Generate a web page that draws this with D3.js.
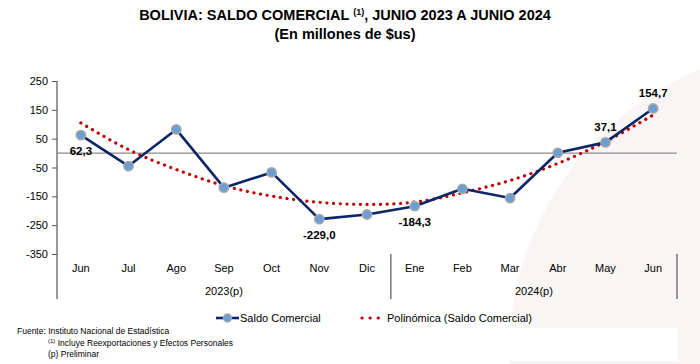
<!DOCTYPE html>
<html>
<head>
<meta charset="utf-8">
<script src="https://cdn.jsdelivr.net/npm/d3@7"></script>
<style>
  body { margin: 0; background: #fff; }
  svg { font-family: "Liberation Sans", Arial, sans-serif; display: block; }
</style>
</head>
<body>
<div id="chart"></div>
<script>
// data
const months = ["Jun", "Jul", "Ago", "Sep", "Oct", "Nov", "Dic", "Ene", "Feb", "Mar", "Abr", "May", "Jun"];
const years = ["2023(p)", "2024(p)"];
const yearStart = [0, 7];
const saldo = [62.3, -45, 82, -120, -67, -229.0, -213, -184.3, -124, -156, 1, 37.1, 154.7];
// polynomial trendline as drawn (read at each month)
const trend = [105, 12, -57, -113, -149, -171, -178, -170, -138, -95, -36, 40, 132];
const labelled = [0, 5, 7, 11, 12];
const labelBelow = [true, true, true, false, false];
const yTicks = [250, 150, 50, -50, -150, -250, -350];

const W = 700, H = 364;
const margin = {top: 81, left: 57, right: 26, bottom: 110};

const svg = d3.select("#chart").append("svg")
    .attr("width", W).attr("height", H);

// faint background decoration
svg.append("circle")
    .attr("cx", 816).attr("cy", 354).attr("r", 307)
    .attr("fill", "#f9f5f4");
svg.append("rect")
    .attr("x", 0).attr("y", 328).attr("width", 677).attr("height", 33)
    .attr("fill", "#fff");

// title
svg.append("text")
    .attr("x", 345).attr("y", 20)
    .attr("text-anchor", "middle")
    .attr("font-weight", "bold").attr("font-size", 14.5)
    .call(t => {
        t.append("tspan").text("BOLIVIA: SALDO COMERCIAL ");
        t.append("tspan").attr("font-size", 9).attr("dy", -5).text("(1)");
        t.append("tspan").attr("dy", 5).text(", JUNIO 2023 A JUNIO 2024");
    });
svg.append("text")
    .attr("x", 345).attr("y", 39)
    .attr("text-anchor", "middle")
    .attr("font-weight", "bold").attr("font-size", 14.5)
    .text("(En millones de $us)");

// scales
const x = d3.scaleBand()
    .domain(d3.range(months.length))
    .range([margin.left, W - margin.right + 3])
    .padding(0);
const cx = i => x(i) + x.bandwidth() / 2;

const y = d3.scaleLinear()
    .domain([-350, 250])
    .range([254, margin.top]);

// y axis
const yAxis = svg.append("g")
    .attr("transform", `translate(${margin.left},0)`)
    .call(d3.axisLeft(y).tickValues(yTicks).tickSize(5).tickPadding(4).tickFormat(d => String(d)));
yAxis.select(".domain").remove();
yAxis.selectAll(".tick line").attr("stroke", "#555");
yAxis.selectAll(".tick text").attr("font-size", 11).attr("fill", "#000")
    .attr("font-family", "Liberation Sans, Arial, sans-serif");
svg.append("line")
    .attr("x1", margin.left).attr("x2", margin.left)
    .attr("y1", y(250)).attr("y2", 299)
    .attr("stroke", "#555").attr("stroke-width", 1.2);

// zero line (category axis)
svg.append("line")
    .attr("x1", margin.left).attr("x2", x.range()[1])
    .attr("y1", y(0)).attr("y2", y(0))
    .attr("stroke", "#8c8c8c").attr("stroke-width", 1.2);

// category labels
svg.append("g").selectAll("text")
    .data(months)
    .join("text")
    .attr("x", (d, i) => cx(i))
    .attr("y", 272)
    .attr("text-anchor", "middle")
    .attr("font-size", 11)
    .text(d => d);

// year groups + separators
const sepX = [...yearStart.slice(1).map(i => x(i)), x.range()[1]];
svg.append("g").selectAll("line")
    .data(sepX)
    .join("line")
    .attr("x1", d => d).attr("x2", d => d)
    .attr("y1", 254).attr("y2", 299)
    .attr("stroke", "#555").attr("stroke-width", 1.2);

years.forEach((yr, k) => {
    const a = x(yearStart[k]);
    const b = k + 1 < yearStart.length ? x(yearStart[k + 1]) : x.range()[1];
    svg.append("text")
        .attr("x", (a + b) / 2).attr("y", 295)
        .attr("text-anchor", "middle")
        .attr("font-size", 11)
        .text(yr);
});

// trendline
svg.append("path")
    .datum(trend)
    .attr("d", d3.line().x((d, i) => cx(i)).y(d => y(d)).curve(d3.curveNatural))
    .attr("fill", "none")
    .attr("stroke", "#c00000")
    .attr("stroke-width", 3.2)
    .attr("stroke-linecap", "round")
    .attr("stroke-dasharray", "0.1 6.6");

// main series
svg.append("path")
    .datum(saldo)
    .attr("d", d3.line().x((d, i) => cx(i)).y(d => y(d)))
    .attr("fill", "none")
    .attr("stroke", "#0b2566")
    .attr("stroke-width", 2.6)
    .attr("stroke-linejoin", "round");

svg.append("g").selectAll("circle")
    .data(saldo)
    .join("circle")
    .attr("cx", (d, i) => cx(i))
    .attr("cy", d => y(d))
    .attr("r", 4.6)
    .attr("fill", "#6a9fd6")
    .attr("stroke", "#a6a6a6")
    .attr("stroke-width", 1.6);

// data labels
const fmt = v => v.toFixed(1).replace(".", ",");
svg.append("g").selectAll("text")
    .data(labelled)
    .join("text")
    .attr("x", i => cx(i))
    .attr("y", (i, k) => labelBelow[k] ? y(saldo[i]) + 20 : y(saldo[i]) - 11)
    .attr("text-anchor", "middle")
    .attr("font-size", 11.5)
    .attr("font-weight", "bold")
    .text(i => fmt(saldo[i]));

// legend
const lg = svg.append("g").attr("transform", "translate(0,318)");
lg.append("line").attr("x1", 216).attr("x2", 239).attr("y1", 0).attr("y2", 0)
    .attr("stroke", "#0b2566").attr("stroke-width", 2.6);
lg.append("circle").attr("cx", 227.5).attr("cy", 0).attr("r", 4)
    .attr("fill", "#6a9fd6").attr("stroke", "#a6a6a6").attr("stroke-width", 1.4);
lg.append("text").attr("x", 240).attr("y", 4).attr("font-size", 11).text("Saldo Comercial");
lg.append("line").attr("x1", 362).attr("x2", 380).attr("y1", 0).attr("y2", 0)
    .attr("stroke", "#c00000").attr("stroke-width", 3.2)
    .attr("stroke-linecap", "round").attr("stroke-dasharray", "0.1 8");
lg.append("text").attr("x", 387).attr("y", 4).attr("font-size", 11).text("Polinómica (Saldo Comercial)");

// footer
const ft = svg.append("g").attr("font-size", 8.5);
ft.append("text").attr("x", 17).attr("y", 334).text("Fuente: Instituto Nacional de Estadística");
ft.append("text").attr("x", 48).attr("y", 346)
    .call(t => {
        t.append("tspan").attr("font-size", 6).attr("dy", -3).text("(1)");
        t.append("tspan").attr("dy", 3).text(" Incluye Reexportaciones y Efectos Personales");
    });
ft.append("text").attr("x", 48).attr("y", 357).text("(p) Preliminar");
</script>
</body>
</html>
